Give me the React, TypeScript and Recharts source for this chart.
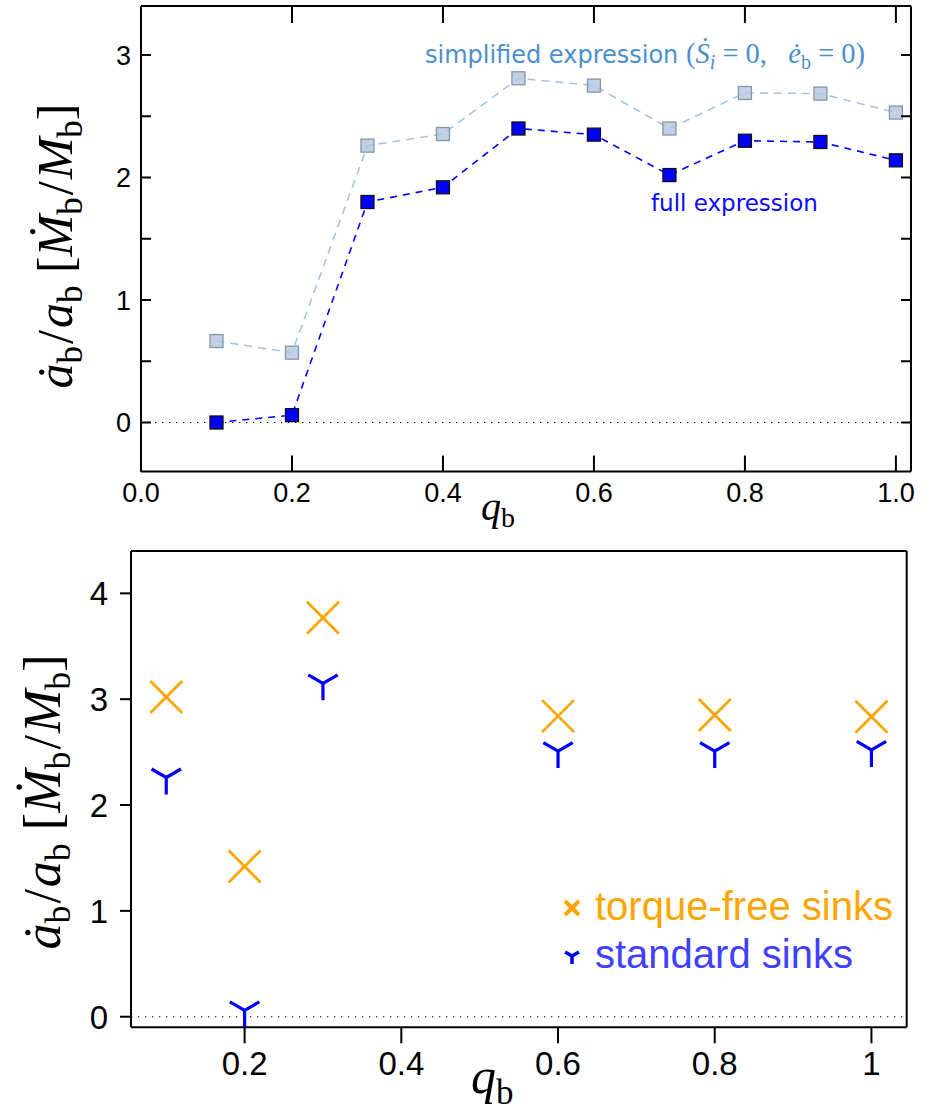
import React from 'react';
import { ComposedChart, ScatterChart, Line, Scatter, XAxis, YAxis, ReferenceLine } from 'recharts';

// ---------- data (top panel) ----------
const qTop = [0.1, 0.2, 0.3, 0.4, 0.5, 0.6, 0.7, 0.8, 0.9, 1.0];
const fullExpr = [0.0, 0.06, 1.8, 1.92, 2.4, 2.35, 2.02, 2.3, 2.29, 2.14];
const simplifiedExpr = [0.665, 0.57, 2.26, 2.355, 2.81, 2.75, 2.4, 2.69, 2.685, 2.53];
const topXTicks = [0, 0.2, 0.4, 0.6, 0.8, 1.0];
const topYTicks = [0, 0.5, 1, 1.5, 2, 2.5, 3];

// ---------- data (bottom panel) ----------
const qBottom = [0.1, 0.2, 0.3, 0.6, 0.8, 1.0];
const torqueFree = [3.02, 1.42, 3.77, 2.84, 2.85, 2.835];
const standardSinks = [2.26, 0.06, 3.15, 2.51, 2.51, 2.52];
const bottomXTicks = [0.2, 0.4, 0.6, 0.8, 1];
const bottomYTicks = [0, 1, 2, 3, 4];

const topData = qTop.map((q, i) => ({ q, full: fullExpr[i], simp: simplifiedExpr[i] }));
const tfData = qBottom.map((q, i) => ({ q, v: torqueFree[i] }));
const stdData = qBottom.map((q, i) => ({ q, v: standardSinks[i] }));

const SANS = "'Liberation Sans', Arial, Helvetica, sans-serif";
const SERIF = "'Liberation Serif', 'Times New Roman', serif";
const AX = { stroke: '#000', strokeWidth: 2 };

const ORANGE = '#FFA500';
const BLUE = '#0000FF';

// ---------- tick renderers ----------
const topBottomTick = (p: any) => (
  <g>
    <line x1={p.x} x2={p.x} y1={p.y} y2={p.y - 16} stroke="#000" strokeWidth={2} />
    <text x={p.x} y={p.y + 30} textAnchor="middle" fontFamily={SANS} fontSize={27} fill="#000">
      {Number(p.payload.value).toFixed(1)}
    </text>
  </g>
);
const topTopTick = (p: any) => (
  <line x1={p.x} x2={p.x} y1={p.y} y2={p.y + 17} stroke="#000" strokeWidth={2} />
);
const topLeftTick = (p: any) => {
  const v = Number(p.payload.value);
  return (
    <g>
      <line x1={p.x} x2={p.x + 10} y1={p.y} y2={p.y} stroke="#000" strokeWidth={2} />
      {Number.isInteger(v) && (
        <text x={p.x - 10} y={p.y + 9.7} textAnchor="end" fontFamily={SANS} fontSize={27} fill="#000">
          {v}
        </text>
      )}
    </g>
  );
};
const topRightTick = (p: any) => (
  <line x1={p.x} x2={p.x - 10} y1={p.y} y2={p.y} stroke="#000" strokeWidth={2} />
);

const botBottomTick = (p: any) => (
  <g>
    <line x1={p.x} x2={p.x} y1={p.y} y2={p.y + 16} stroke="#000" strokeWidth={2} />
    <text x={p.x} y={p.y + 48} textAnchor="middle" fontFamily={SANS} fontSize={33} fill="#000">
      {String(p.payload.value)}
    </text>
  </g>
);
const botLeftTick = (p: any) => (
  <g>
    <line x1={p.x} x2={p.x - 11} y1={p.y} y2={p.y} stroke="#000" strokeWidth={2} />
    <text x={p.x - 23} y={p.y + 12} textAnchor="end" fontFamily={SANS} fontSize={33} fill="#000">
      {String(p.payload.value)}
    </text>
  </g>
);

// ---------- markers ----------
const squareLight = (p: any) =>
  p.cx == null ? <g key={p.index} /> : (
    <rect key={p.index} x={p.cx - 6.5} y={p.cy - 6.5} width={13} height={13}
      fill="#b0c4de" fillOpacity={0.8} stroke="#8596a6" strokeWidth={1.3} />
  );
const squareDark = (p: any) =>
  p.cx == null ? <g key={p.index} /> : (
    <rect key={p.index} x={p.cx - 6.5} y={p.cy - 6.5} width={13} height={13}
      fill={BLUE} stroke="#111" strokeWidth={1.3} />
  );

const XMark = ({ cx, cy, r = 16, w = 2.8, color = ORANGE }: any) => (
  <g>
    <line x1={cx - r} y1={cy - r} x2={cx + r} y2={cy + r} stroke={color} strokeWidth={w} />
    <line x1={cx - r} y1={cy + r} x2={cx + r} y2={cy - r} stroke={color} strokeWidth={w} />
  </g>
);
const TriDown = ({ cx, cy, r = 17, w = 3.2, color = BLUE }: any) => (
  <g>
    <line x1={cx} y1={cy} x2={cx} y2={cy + r} stroke={color} strokeWidth={w} />
    <line x1={cx} y1={cy} x2={cx - 0.866 * r} y2={cy - 0.5 * r} stroke={color} strokeWidth={w} />
    <line x1={cx} y1={cy} x2={cx + 0.866 * r} y2={cy - 0.5 * r} stroke={color} strokeWidth={w} />
  </g>
);

const W = 935;
const H1 = 540;
const H2 = 576;

const YLabel = ({ x, y, fs }: any) => {
  const sub = Math.round(fs * 0.7);
  const d = Math.round(fs * 0.2);
  return (
    <text transform={`translate(${x},${y}) rotate(-90)`} textAnchor="middle" fontFamily={SERIF} fontSize={fs} fill="#000">
      <tspan fontStyle="italic">ȧ</tspan>
      <tspan fontSize={sub} dy={d}>b</tspan>
      <tspan dy={-d} dx={2}>/</tspan>
      <tspan fontStyle="italic" dx={2}>a</tspan>
      <tspan fontSize={sub} dy={d}>b</tspan>
      <tspan dy={-d}>{'\u00a0['}</tspan>
      <tspan fontStyle="italic">Ṁ</tspan>
      <tspan fontSize={sub} dy={d}>b</tspan>
      <tspan dy={-d} dx={2}>/</tspan>
      <tspan fontStyle="italic" dx={2}>M</tspan>
      <tspan fontSize={sub} dy={d}>b</tspan>
      <tspan dy={-d}>]</tspan>
    </text>
  );
};

export default function App() {
  return (
    <div style={{ position: 'absolute', left: 0, top: 0, width: W, height: 1116, background: '#fff' }}>
      {/* ---------- top panel ---------- */}
      <div style={{ position: 'absolute', left: 0, top: 0 }}>
        <ComposedChart width={W} height={H1} data={topData}
          margin={{ top: 5, right: 23, bottom: 67.5, left: 140 }}>
          <XAxis xAxisId="b" dataKey="q" type="number" domain={[0, 1.02]} ticks={topXTicks}
            orientation="bottom" height={1} tickSize={0} tickMargin={0} interval={0}
            allowDataOverflow axisLine={AX} tickLine={false} tick={topBottomTick} />
          <XAxis xAxisId="t" dataKey="q" type="number" domain={[0, 1.02]} ticks={topXTicks}
            orientation="top" height={1} tickSize={0} tickMargin={0} interval={0}
            allowDataOverflow axisLine={AX} tickLine={false} tick={topTopTick} />
          <YAxis yAxisId="l" type="number" domain={[-0.4, 3.4]} ticks={topYTicks}
            orientation="left" width={1} tickSize={0} tickMargin={0} interval={0}
            allowDataOverflow axisLine={AX} tickLine={false} tick={topLeftTick} />
          <YAxis yAxisId="r" type="number" domain={[-0.4, 3.4]} ticks={topYTicks}
            orientation="right" width={1} tickSize={0} tickMargin={0} interval={0}
            allowDataOverflow axisLine={AX} tickLine={false} tick={topRightTick} />
          <ReferenceLine xAxisId="b" yAxisId="l" y={0} stroke="#000" strokeWidth={1.1} strokeDasharray="1.3 5.7" />
          <Line xAxisId="b" yAxisId="l" dataKey="simp" type="linear" stroke="#a9c4de" strokeWidth={1.6}
            strokeDasharray="8 6" dot={squareLight} activeDot={false} isAnimationActive={false} />
          <Line xAxisId="b" yAxisId="l" dataKey="full" type="linear" stroke={BLUE} strokeWidth={1.6}
            strokeDasharray="7 6" dot={squareDark} activeDot={false} isAnimationActive={false} />
        </ComposedChart>
      </div>

      {/* ---------- bottom panel ---------- */}
      <div style={{ position: 'absolute', left: 0, top: H1 }}>
        <ScatterChart width={W} height={H2}
          margin={{ top: 10, right: 27.3, bottom: 87.7, left: 130 }}>
          <XAxis xAxisId="b" dataKey="q" type="number" domain={[0.055, 1.045]} ticks={bottomXTicks}
            orientation="bottom" height={1} tickSize={0} tickMargin={0} interval={0}
            allowDataOverflow axisLine={AX} tickLine={false} tick={botBottomTick} />
          <XAxis xAxisId="t" dataKey="q" type="number" domain={[0.055, 1.045]} ticks={bottomXTicks}
            orientation="top" height={1} tickSize={0} tickMargin={0}
            allowDataOverflow axisLine={AX} tickLine={false} tick={false} />
          <YAxis yAxisId="l" dataKey="v" type="number" domain={[-0.1, 4.4]} ticks={bottomYTicks}
            orientation="left" width={1} tickSize={0} tickMargin={0} interval={0}
            allowDataOverflow axisLine={AX} tickLine={false} tick={botLeftTick} />
          <YAxis yAxisId="r" dataKey="v" type="number" domain={[-0.1, 4.4]} ticks={bottomYTicks}
            orientation="right" width={1} tickSize={0} tickMargin={0}
            allowDataOverflow axisLine={AX} tickLine={false} tick={false} />
          <ReferenceLine xAxisId="b" yAxisId="l" y={0} stroke="#000" strokeWidth={1.1} strokeDasharray="1.3 5.7" />
          <Scatter xAxisId="b" yAxisId="l" name="torque-free sinks" data={tfData} dataKey="v"
            isAnimationActive={false}
            shape={(p: any) => <XMark cx={p.cx} cy={p.cy} />} />
          <Scatter xAxisId="b" yAxisId="l" name="standard sinks" data={stdData} dataKey="v"
            isAnimationActive={false}
            shape={(p: any) => <TriDown cx={p.cx} cy={p.cy} />} />
        </ScatterChart>
      </div>

      {/* ---------- text overlay ---------- */}
      <svg width={W} height={1116} style={{ position: 'absolute', left: 0, top: 0, pointerEvents: 'none' }}>
        {/* annotations top panel */}
        <text x={425} y={63} fill="#4a8fcf" fontFamily="'DejaVu Sans', Verdana, sans-serif" fontSize={24}>
          simplified expression{'\u00a0'}
          <tspan fontFamily={SERIF} fontSize={28.5}>(</tspan>
          <tspan fontFamily={SERIF} fontSize={28.5} fontStyle="italic">Ṡ</tspan>
          <tspan fontFamily={SERIF} fontSize={20} fontStyle="italic" dy={6}>i</tspan>
          <tspan fontFamily={SERIF} fontSize={28.5} dy={-6}>{'\u00a0=\u00a00,\u00a0\u00a0\u00a0'}</tspan>
          <tspan fontFamily={SERIF} fontSize={28.5} fontStyle="italic">ė</tspan>
          <tspan fontFamily={SERIF} fontSize={20} dy={6}>b</tspan>
          <tspan fontFamily={SERIF} fontSize={28.5} dy={-6}>{'\u00a0=\u00a00)'}</tspan>
        </text>
        <text x={651} y={211} fill="#0a0aff" fontFamily="'DejaVu Sans', Verdana, sans-serif" fontSize={23}>
          full expression
        </text>

        {/* axis labels */}
        <YLabel x={72} y={246} fs={50} />
        <text x={481} y={520} fontFamily={SERIF} fontSize={40} fill="#000">
          <tspan fontStyle="italic">q</tspan>
          <tspan fontSize={28} dy={7}>b</tspan>
        </text>

        <YLabel x={60} y={802} fs={52} />
        <text x={471} y={1093} fontFamily={SERIF} fontSize={50} fill="#000">
          <tspan fontStyle="italic">q</tspan>
          <tspan fontSize={35} dy={11}>b</tspan>
        </text>

        {/* legend bottom panel */}
        <XMark cx={572} cy={908} r={7} w={4} color={ORANGE} />
        <text x={595} y={920} fill={ORANGE} fontFamily={SANS} fontSize={40}>torque-free sinks</text>
        <TriDown cx={572} cy={956} r={8} w={3.5} color={BLUE} />
        <text x={595} y={968} fill="#4040ff" fontFamily={SANS} fontSize={40}>standard sinks</text>
      </svg>
    </div>
  );
}
